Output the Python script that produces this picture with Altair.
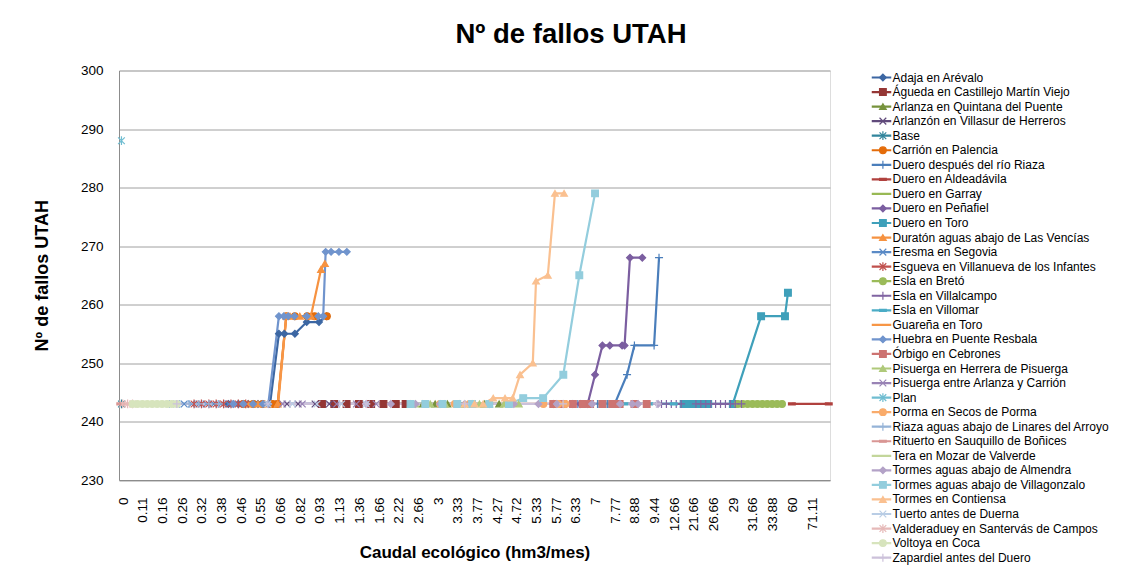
import altair as alt
import pandas as pd

FONT = "Liberation Sans"

SERIES = [
    "Adaja en Arévalo", "Águeda en Castillejo Martín Viejo", "Arlanza en Quintana del Puente",
    "Arlanzón en Villasur de Herreros", "Base", "Carrión en Palencia", "Duero después del río Riaza",
    "Duero en Aldeadávila", "Duero en Garray", "Duero en Peñafiel", "Duero en Toro",
    "Duratón aguas abajo de Las Vencías", "Eresma en Segovia", "Esgueva en Villanueva de los Infantes",
    "Esla en Bretó", "Esla en Villalcampo", "Esla en Villomar", "Guareña en Toro",
    "Huebra en Puente Resbala", "Órbigo en Cebrones", "Pisuerga en Herrera de Pisuerga",
    "Pisuerga entre Arlanza y Carrión", "Plan", "Porma en Secos de Porma",
    "Riaza aguas abajo de Linares del Arroyo", "Rituerto en Sauquillo de Boñices",
    "Tera en Mozar de Valverde", "Tormes aguas abajo de Almendra",
    "Tormes aguas abajo de Villagonzalo", "Tormes en Contiensa", "Tuerto antes de Duerna",
    "Valderaduey en Santervás de Campos", "Voltoya en Coca", "Zapardiel antes del Duero",
]

COLORS = [
    "#3C67A3", "#953735", "#77933C", "#604A7B", "#31859C", "#E46C0A", "#4A7EBB",
    "#B0413E", "#98B954", "#7B5EA0", "#3FA0BA", "#F69240", "#5A8AC6", "#C0504D",
    "#9BBB59", "#8064A2", "#4BACC6", "#F79646", "#7094CD", "#CD7371", "#AFC97A",
    "#9983B5", "#6FBDD1", "#F9AB6B", "#95B3D7", "#D99694", "#C3D69B", "#B3A2C7",
    "#93CDDD", "#FAC090", "#B9CDE5", "#E6B9B8", "#D7E4BD", "#CCC1DA",
]

MARKERS = [
    "diamond", "square", "triangle", "x", "star", "circle", "plus",
    "dash", "none", "diamond", "square", "triangle", "x", "star",
    "circle", "plus", "dash", "none", "diamond", "square", "triangle",
    "x", "star", "circle", "plus", "dash", "none", "diamond",
    "square", "triangle", "x", "star", "circle", "plus",
]

X_LABELS = ["0", "0.11", "0.16", "0.26", "0.32", "0.38", "0.46", "0.55", "0.66", "0.82",
            "0.93", "1.13", "1.36", "1.66", "2.22", "2.66", "3", "3.33", "3.77", "4.27",
            "4.72", "5.33", "5.77", "6.33", "7", "7.77", "8.88", "9.44", "12.66", "21.66",
            "26.66", "29", "31.66", "33.88", "60", "71.11"]

# category positions (8 categories per shown label) and values
ADAJA_X = [44, 48, 52, 56, 60.9, 64.5, 66.7, 71, 75.8, 80.8, 83.9]
ADAJA_Y = [243, 243, 243, 243, 243, 255, 255, 255, 257, 257, 258]
AGUEDA_X = [82, 87, 92, 97, 102, 107, 112, 116]
AGUEDA_Y = [243, 243, 243, 243, 243, 243, 243, 243]
ARLANZA_X = [118, 123, 128, 133, 138, 143, 148, 154]
ARLANZA_Y = [243, 243, 243, 243, 243, 243, 243, 243]
ARLANZON_X = [56, 62, 67.8, 72.3, 79.2, 85]
ARLANZON_Y = [243, 243, 243, 243, 243, 243]
BASE_X = [0.5]
BASE_Y = [243]
CARRION_X = [50, 54, 58, 62, 64, 67.5, 71, 76, 79, 84]
CARRION_Y = [243, 243, 243, 243, 243, 258, 258, 258, 258, 258]
DRIAZA_X = [186, 190, 194, 198, 201, 206, 209, 217, 219]
DRIAZA_Y = [243, 243, 243, 243, 243, 248, 253, 253, 268]
ALDEA_X = [273, 288]
ALDEA_Y = [243, 243]
GARRAY_X = [96, 150]
GARRAY_Y = [243, 243]
PENAFIEL_X = [176, 180, 184, 187, 190, 193, 196, 199, 204, 205, 207.2, 212.2]
PENAFIEL_Y = [243, 243, 243, 243, 243, 248, 253, 253, 253, 253, 268, 268]
TORO_X = [196, 200, 229, 231, 233, 235, 237, 239, 249, 260.5, 270.2, 271.4]
TORO_Y = [243, 243, 243, 243, 243, 243, 243, 243, 243, 258, 258, 262]
DURATON_X = [52, 56, 60, 64, 67.5, 69, 73, 77.5, 81.6, 83.2]
DURATON_Y = [243, 243, 243, 243, 258, 258, 258, 258, 266, 267]
ERESMA_X = [23, 26, 29, 32, 35, 38, 41, 44, 47]
ERESMA_Y = [243, 243, 243, 243, 243, 243, 243, 243, 243]
ESGUEVA_X = [30, 33, 36, 39, 42, 45, 48, 51]
ESGUEVA_Y = [243, 243, 243, 243, 243, 243, 243, 243]
BRETO_X = [251, 253, 255, 257, 259, 261, 263, 265, 267, 269]
BRETO_Y = [243, 243, 243, 243, 243, 243, 243, 243, 243, 243]
VILLALCAMPO_X = [218, 220, 222, 224, 226, 228, 234, 236, 238, 240, 242, 244, 246, 248, 250, 252.5]
VILLALCAMPO_Y = [243, 243, 243, 243, 243, 243, 243, 243, 243, 243, 243, 243, 243, 243, 243, 243]
VILLOMAR_X = [205, 215, 225]
VILLOMAR_Y = [243, 243, 243]
GUARENA_X = [40, 64.2, 67.5, 84]
GUARENA_Y = [243, 243, 258, 258]
HUEBRA_X = [46, 50, 54, 58, 60.2, 64.5, 66.5, 68.3, 70.8, 75.8, 80.5, 82.5, 83.5, 85.7, 88.9, 92.1]
HUEBRA_Y = [243, 243, 243, 243, 243, 258, 258, 258, 258, 258, 258, 258, 269, 269, 269, 269]
ORBIGO_X = [176, 180, 184, 188, 191, 196, 200, 203, 209, 214]
ORBIGO_Y = [243, 243, 243, 243, 243, 243, 243, 243, 243, 243]
PHERRERA_X = [120, 126, 132, 140, 146, 150, 156, 162]
PHERRERA_Y = [243, 243, 243, 243, 243, 243, 243, 243]
PENTRE_X = [66, 74, 88, 96, 104]
PENTRE_Y = [243, 243, 243, 243, 243]
PLAN_X = [0.5]
PLAN_Y = [288]
PORMA_X = [124, 130, 136, 142, 150, 172, 178, 181]
PORMA_Y = [243, 243, 243, 243, 243, 243, 243, 243]
RIAZA_X = [20, 24, 28, 32, 36, 40]
RIAZA_Y = [243, 243, 243, 243, 243, 243]
RITUERTO_X = [0, 12]
RITUERTO_Y = [243, 243]
TERA_X = [4, 22]
TERA_Y = [243, 243]
ALMENDRA_X = [100, 110, 120, 130, 140, 150, 160, 170, 177.5, 191.8, 203.2, 208.1, 210.5, 218.6]
ALMENDRA_Y = [243, 243, 243, 243, 243, 243, 243, 243, 243, 243, 243, 243, 243, 243]
VILLAGON_X = [118, 124, 131, 137, 143, 150, 158, 163.8, 171.9, 180.1, 186.6, 193]
VILLAGON_Y = [243, 243, 243, 243, 243, 243, 243, 244, 244, 248, 265, 279]
CONTIENSA_X = [140, 144, 147.5, 151.6, 156.4, 159.5, 162.5, 167.7, 169, 173.8, 176.7, 180.4]
CONTIENSA_Y = [243, 243, 243, 244, 244, 244, 248, 250, 264, 265, 279, 279]
TUERTO_X = [60, 70, 80, 90, 100]
TUERTO_Y = [243, 243, 243, 243, 243]
VALDERADUEY_X = [1, 3, 5]
VALDERADUEY_Y = [243, 243, 243]
VOLTOYA_X = [5, 7, 9, 11, 13, 15, 17, 19, 21, 23]
VOLTOYA_Y = [243, 243, 243, 243, 243, 243, 243, 243, 243, 243]
ZAPARDIEL_X = [23, 60, 100, 140, 180, 218]
ZAPARDIEL_Y = [243, 243, 243, 243, 243, 243]

SERIES_DATA = [
    (ADAJA_X, ADAJA_Y), (AGUEDA_X, AGUEDA_Y), (ARLANZA_X, ARLANZA_Y), (ARLANZON_X, ARLANZON_Y),
    (BASE_X, BASE_Y), (CARRION_X, CARRION_Y), (DRIAZA_X, DRIAZA_Y), (ALDEA_X, ALDEA_Y),
    (GARRAY_X, GARRAY_Y), (PENAFIEL_X, PENAFIEL_Y), (TORO_X, TORO_Y), (DURATON_X, DURATON_Y),
    (ERESMA_X, ERESMA_Y), (ESGUEVA_X, ESGUEVA_Y), (BRETO_X, BRETO_Y),
    (VILLALCAMPO_X, VILLALCAMPO_Y), (VILLOMAR_X, VILLOMAR_Y), (GUARENA_X, GUARENA_Y),
    (HUEBRA_X, HUEBRA_Y), (ORBIGO_X, ORBIGO_Y), (PHERRERA_X, PHERRERA_Y), (PENTRE_X, PENTRE_Y),
    (PLAN_X, PLAN_Y), (PORMA_X, PORMA_Y), (RIAZA_X, RIAZA_Y), (RITUERTO_X, RITUERTO_Y),
    (TERA_X, TERA_Y), (ALMENDRA_X, ALMENDRA_Y), (VILLAGON_X, VILLAGON_Y),
    (CONTIENSA_X, CONTIENSA_Y), (TUERTO_X, TUERTO_Y), (VALDERADUEY_X, VALDERADUEY_Y),
    (VOLTOYA_X, VOLTOYA_Y), (ZAPARDIEL_X, ZAPARDIEL_Y),
]

PATHS = {
    "diamond": "diamond",
    "square": "square",
    "triangle": "triangle-up",
    "circle": "circle",
    "x": "M-1,-1L1,1M-1,1L1,-1",
    "star": "M-1,-1L1,1M-1,1L1,-1M0,-1.3L0,1.3",
    "plus": "M-1.2,0L1.2,0M0,-1.2L0,1.2",
    "dash": "M-1,-0.3L1,-0.3L1,0.3L-1,0.3Z",
    "none": "M0,0L0,0",
}
KEYS = ["m%02d" % i for i in range(len(SERIES))]
SHAPE_RANGE = [PATHS[m] for m in MARKERS]

rows = []
for i, (xs, ys) in enumerate(SERIES_DATA):
    for xv, yv in zip(xs, ys):
        rows.append({"series": SERIES[i], "key": KEYS[i], "pos": xv, "val": yv,
                     "ord": i, "mk": MARKERS[i] != "none"})
df = pd.DataFrame(rows)

# labels sit slightly right of their category, as in the reference
LABEL_SHIFT = 1.2
label_expr = ("[" + ",".join("'%s'" % s for s in X_LABELS) + "]"
              + "[round((datum.value-%s)/8)]" % LABEL_SHIFT)

x_axis = alt.Axis(
    values=[8 * k + LABEL_SHIFT for k in range(len(X_LABELS))], labelExpr=label_expr,
    labelAngle=270, labelAlign="right",
    labelBaseline="middle", labelPadding=17, ticks=False, tickSize=0, grid=False,
    domain=True, domainColor="#8C8C8C", labelFont=FONT, labelFontSize=13.5, labelColor="black",
    labelOverlap=False, labelFlush=False,
    title="Caudal ecológico (hm3/mes)", titleFont=FONT, titleFontSize=17, titleFontWeight="bold",
    titleColor="black", titlePadding=14,
)
y_axis = alt.Axis(
    values=[230, 240, 250, 260, 270, 280, 290, 300], ticks=False, tickSize=0, grid=True,
    gridColor="#A0A0A0", gridWidth=1, domain=True, domainColor="#8C8C8C",
    labelFont=FONT, labelFontSize=13.5, labelColor="black", labelPadding=16,
    title="Nº de fallos UTAH", titleFont=FONT, titleFontSize=18, titleFontWeight="bold",
    titleColor="black", titlePadding=29,
)

LEG_X = 751.5
line_legend = alt.Legend(
    title=None, orient="none", legendX=LEG_X, legendY=0, direction="vertical",
    symbolType="stroke", symbolSize=380, symbolStrokeWidth=2.2, symbolLimit=60,
    labelFont=FONT, labelFontSize=12, labelColor="black", labelLimit=400,
    clipHeight=14, rowPadding=0.55, labelOffset=0, padding=0, symbolOffset=0,
)
mk_legend = alt.Legend(
    title=None, orient="none", legendX=LEG_X, legendY=0, direction="vertical",
    symbolSize=45, symbolStrokeWidth=1.2, symbolLimit=60,
    labelFont=FONT, labelFontSize=12, labelExpr="''", labelLimit=400,
    clipHeight=14, rowPadding=0.55, labelOffset=0, padding=0, symbolOffset=6.4,
)

base = alt.Chart(df).encode(
    x=alt.X("pos:Q", scale=alt.Scale(domain=[-0.5, 288.5], nice=False, zero=False), axis=x_axis),
    y=alt.Y("val:Q", scale=alt.Scale(domain=[230, 300], nice=False, zero=False), axis=y_axis),
)

lines = base.mark_line(strokeWidth=2.2).encode(
    color=alt.Color("series:N", scale=alt.Scale(domain=SERIES, range=COLORS), legend=line_legend),
)

points = base.transform_filter("datum.mk").mark_point(
    filled=True, size=45, strokeWidth=1.2, opacity=1
).encode(
    fill=alt.Fill("key:N", scale=alt.Scale(domain=KEYS, range=COLORS), legend=mk_legend),
    stroke=alt.Stroke("key:N", scale=alt.Scale(domain=KEYS, range=COLORS), legend=mk_legend),
    shape=alt.Shape("key:N", scale=alt.Scale(domain=KEYS, range=SHAPE_RANGE), legend=mk_legend),
)

chart = alt.layer(lines, points).properties(
    width=711, height=409.5,
    title=alt.TitleParams(text="Nº de fallos UTAH", font=FONT, fontSize=27.5, fontWeight="bold",
                          color="black", anchor="middle", dx=96.5, offset=15),
    autosize=alt.AutoSizeParams(type="none"),
    padding={"left": 111, "top": 62.5, "right": 291, "bottom": 89},
).configure_view(stroke=None).configure(background="white")

chart.save("out.html", embed_options={"renderer": "svg", "actions": False})
